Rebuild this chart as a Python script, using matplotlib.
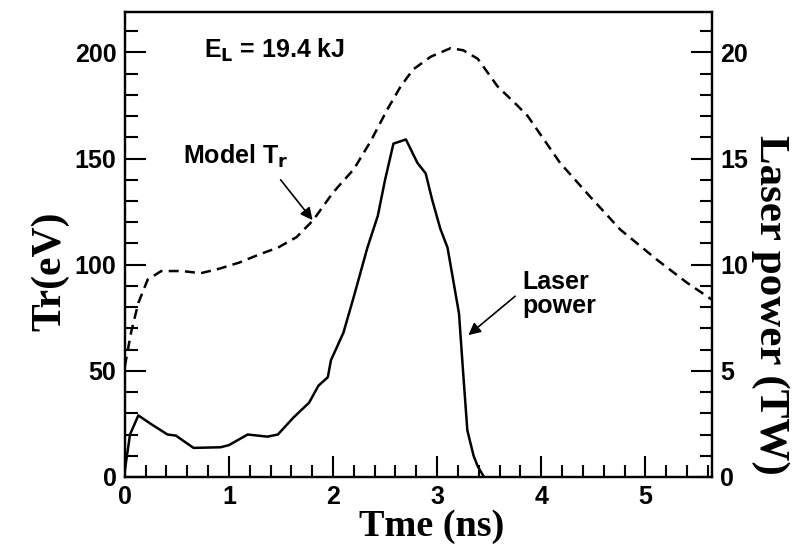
import numpy as np
import matplotlib
matplotlib.use("Agg")
import matplotlib.pyplot as plt
from matplotlib.ticker import MultipleLocator

# model radiation temperature (eV) vs time (ns)
tr_time = [0.0, 0.06, 0.13, 0.22, 0.35, 0.55, 0.73, 0.9, 1.1, 1.3, 1.47, 1.65, 1.81,
           2.0, 2.2, 2.36, 2.52, 2.65, 2.77, 2.94, 3.13, 3.25, 3.39, 3.58, 3.77,
           3.87, 4.18, 4.47, 4.76, 5.12, 5.4, 5.64]
tr_ev = [52, 68, 82, 93, 97, 97, 96, 98, 101, 105, 108, 113, 121,
         134, 145, 158, 173, 184, 192, 198, 202, 201, 197, 184, 175,
         170, 148, 132, 116.5, 102, 91.5, 83.5]

# laser power (TW) vs time (ns)
laser_time = [0.0, 0.05, 0.13, 0.25, 0.41, 0.49, 0.66, 0.92, 1.0, 1.18, 1.37, 1.47,
              1.62, 1.77, 1.86, 1.95, 1.98, 2.1, 2.2, 2.33, 2.43, 2.5, 2.58, 2.7,
              2.81, 2.89, 2.95, 3.03, 3.1, 3.21, 3.25, 3.29, 3.35, 3.39, 3.45]
laser_tw = [0.3, 2.0, 2.9, 2.5, 2.0, 1.95, 1.37, 1.4, 1.5, 2.0, 1.9, 2.0,
            2.8, 3.5, 4.3, 4.7, 5.5, 6.8, 8.5, 10.8, 12.3, 14.0, 15.7, 15.9,
            14.8, 14.3, 13.1, 11.7, 10.8, 7.7, 4.9, 2.2, 1.0, 0.5, 0.0]

plt.rcParams['font.family'] = ['Liberation Sans', 'DejaVu Sans']

fig = plt.figure(figsize=(8, 5.48), dpi=100)
ax = fig.add_axes([0.156, 0.1296, 0.734, 0.8484])
ax2 = ax.twinx()

ax.plot(tr_time, tr_ev, color='black', lw=1.8, linestyle=(0, (4, 2.5)))
ax2.plot(laser_time, laser_tw, color='black', lw=1.8)

ax.set_xlim(0, 5.64)
ax.set_ylim(0, 219)
ax2.set_ylim(0, 21.9)

ax.xaxis.set_major_locator(MultipleLocator(1))
ax.xaxis.set_minor_locator(MultipleLocator(0.2))
ax.yaxis.set_major_locator(MultipleLocator(50))
ax.yaxis.set_minor_locator(MultipleLocator(10))
ax2.yaxis.set_major_locator(MultipleLocator(5))
ax2.yaxis.set_minor_locator(MultipleLocator(1))

ax.tick_params(axis='both', which='major', direction='in', length=15, width=1.5,
               labelsize=18, pad=6, top=False, right=False)
ax.tick_params(axis='both', which='minor', direction='in', length=9, width=1.5,
               top=False, right=False)
ax2.tick_params(axis='y', which='major', direction='in', length=15, width=1.5,
                labelsize=18, pad=6)
ax2.tick_params(axis='y', which='minor', direction='in', length=9, width=1.5)

for a in (ax, ax2):
    for lab in a.get_xticklabels() + a.get_yticklabels():
        lab.set_fontweight('bold')
    for s in a.spines.values():
        s.set_linewidth(1.6)

serif = ['Liberation Serif', 'DejaVu Serif']
ax.set_xlabel('Tme (ns)', family=serif, fontsize=27.5, fontweight='bold', labelpad=0)
ax.set_ylabel('Tr(eV)', family=serif, fontsize=30, fontweight='bold', labelpad=4)
ax2.set_ylabel('Laser power (TW)', family=serif, fontsize=31, fontweight='bold',
               rotation=270, labelpad=30)
ax.xaxis.label.set_x(0.523)
ax.yaxis.label.set_y(0.443)
ax2.yaxis.label.set_y(0.37)

ax.text(0.76, 201, r'E$_\mathbf{L}$ = 19.4 kJ', fontsize=18, fontweight='bold',
        va='center', ha='left')
ax.text(0.56, 151, r'Model T$_\mathbf{r}$', fontsize=18, fontweight='bold',
        va='center', ha='left')
ax.annotate('', xy=(1.82, 120), xytext=(1.48, 141),
            arrowprops=dict(arrowstyle='-|>', color='black', lw=1.2,
                            mutation_scale=18))
ax.text(3.82, 86, 'Laser\npower', fontsize=18, fontweight='bold',
        va='center', ha='left', linespacing=1.0)
ax.annotate('', xy=(3.28, 66), xytext=(3.77, 86),
            arrowprops=dict(arrowstyle='-|>', color='black', lw=1.2,
                            mutation_scale=18))

fig.savefig('out.png', dpi=100)
